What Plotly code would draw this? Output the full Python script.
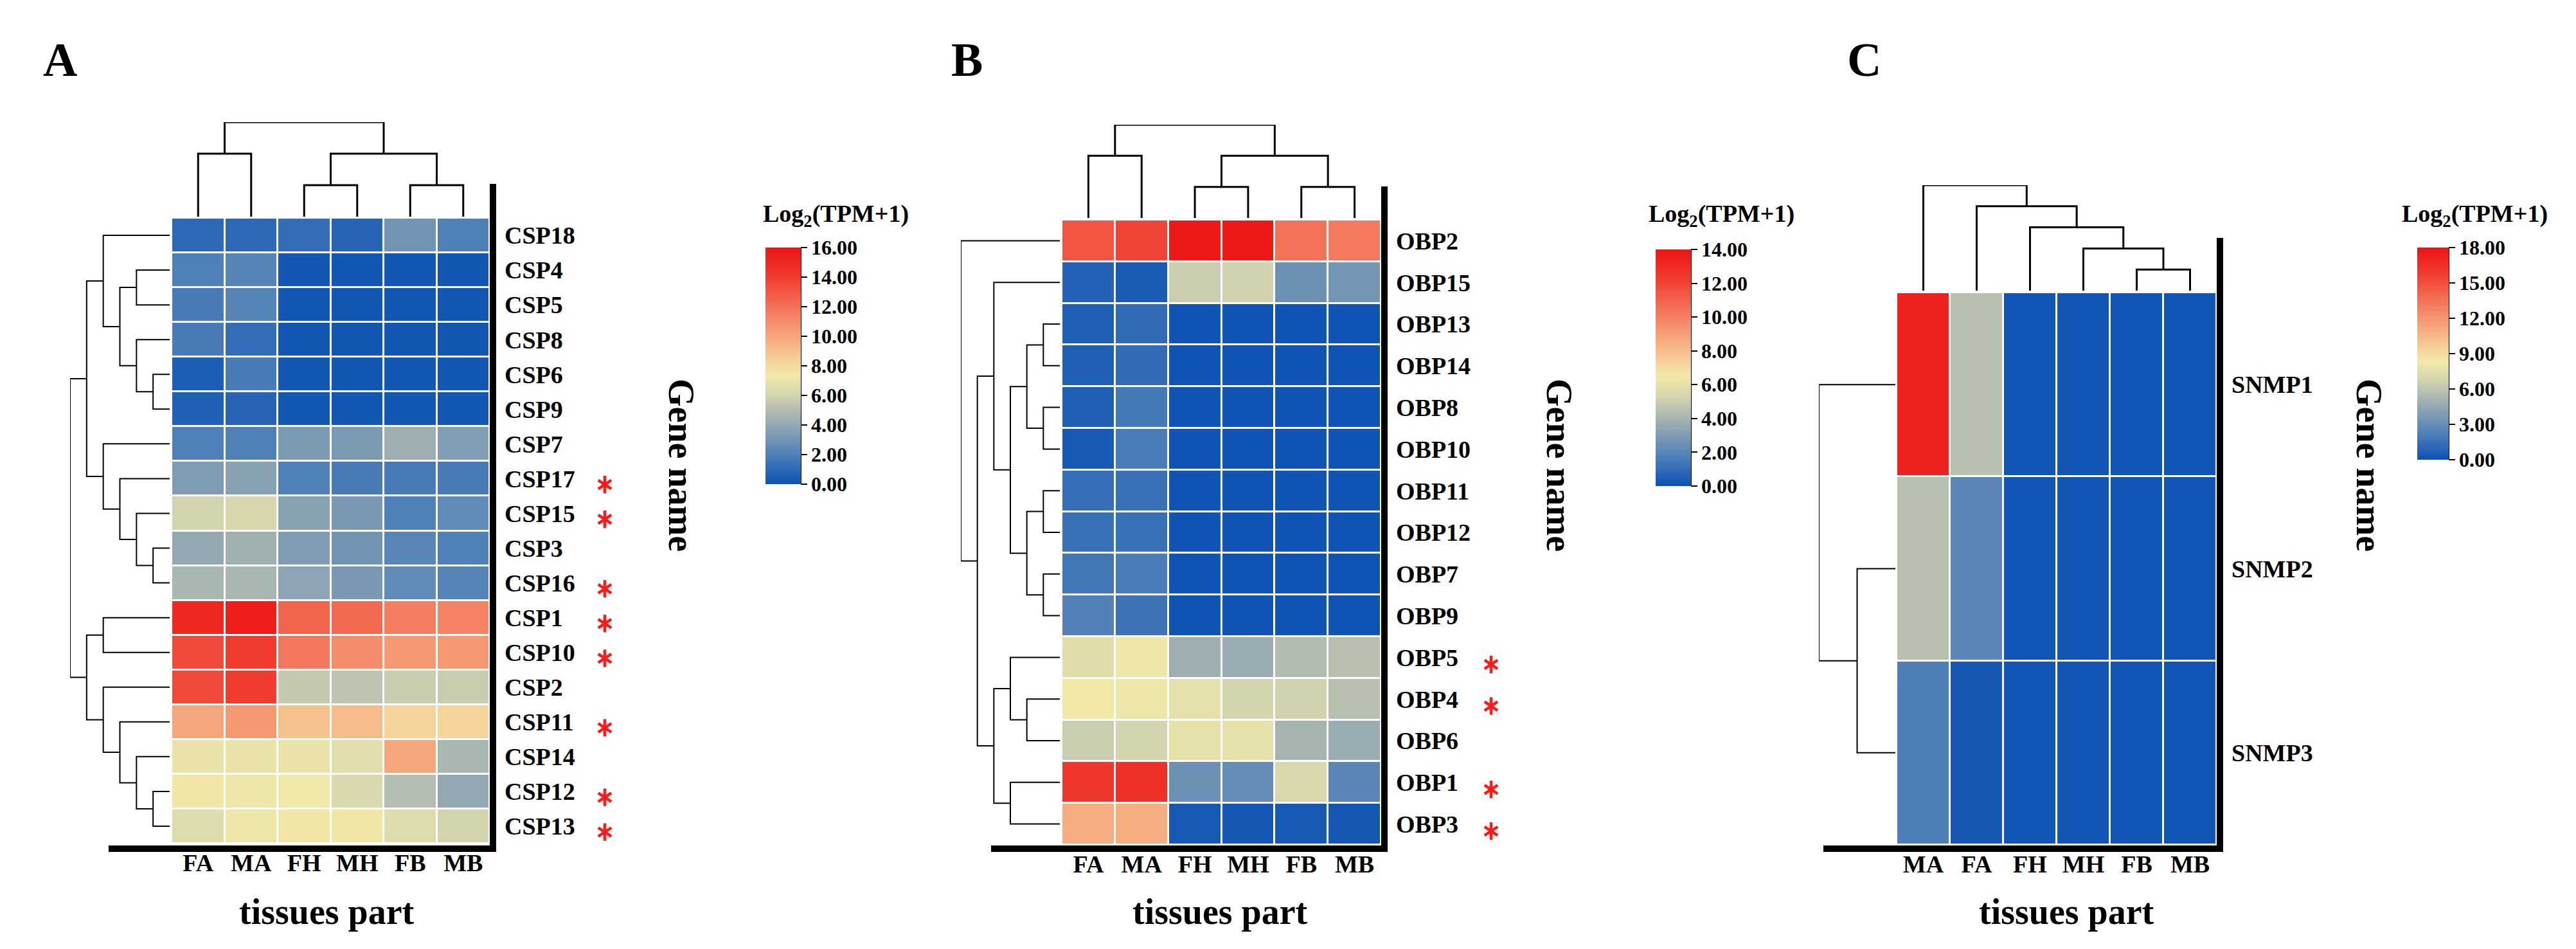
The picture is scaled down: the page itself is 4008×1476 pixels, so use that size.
import plotly.graph_objects as go

W, H = 4008, 1476
FONT = "Liberation Serif"

# ---------------- data ----------------
tissues_ab = ["FA", "MA", "FH", "MH", "FB", "MB"]
tissues_c = ["MA", "FA", "FH", "MH", "FB", "MB"]

csp_genes = ["CSP18", "CSP4", "CSP5", "CSP8", "CSP6", "CSP9", "CSP7", "CSP17", "CSP15",
             "CSP3", "CSP16", "CSP1", "CSP10", "CSP2", "CSP11", "CSP14", "CSP12", "CSP13"]
csp_values = [
    [1.0, 1.0, 1.2, 0.8, 3.0, 2.0],
    [2.0, 2.2, 0.2, 0.2, 0.2, 0.2],
    [1.8, 2.2, 0.2, 0.2, 0.2, 0.2],
    [1.8, 1.2, 0.2, 0.2, 0.2, 0.2],
    [0.5, 1.8, 0.2, 0.2, 0.2, 0.2],
    [0.6, 0.8, 0.2, 0.2, 0.2, 0.2],
    [2.0, 2.0, 3.3, 3.3, 4.3, 3.5],
    [3.4, 3.7, 2.0, 1.8, 1.8, 1.8],
    [6.0, 6.2, 3.7, 3.2, 2.0, 2.5],
    [4.0, 4.4, 3.4, 3.0, 2.3, 2.0],
    [4.7, 4.7, 3.8, 3.2, 2.5, 2.2],
    [15.0, 15.5, 12.5, 12.3, 11.5, 11.3],
    [13.5, 14.0, 11.8, 11.0, 10.5, 10.5],
    [13.5, 14.0, 5.5, 5.3, 5.7, 5.7],
    [10.0, 10.5, 9.0, 9.2, 8.3, 8.3],
    [7.0, 7.0, 7.0, 6.7, 10.0, 4.7],
    [7.5, 7.2, 7.3, 6.3, 5.0, 4.0],
    [6.5, 7.2, 7.5, 7.5, 6.5, 6.0],
]
csp_starred = ["CSP17", "CSP15", "CSP16", "CSP1", "CSP10", "CSP11", "CSP12", "CSP13"]
csp_ticks = [0, 2, 4, 6, 8, 10, 12, 14, 16]
# merges: (child, child, level); str = leaf, int = index of an earlier merge
csp_row_tree = [
    ("CSP4", "CSP5", 2), ("CSP6", "CSP9", 1), ("CSP8", 1, 2), (0, 2, 3), ("CSP18", 3, 4),
    ("CSP3", "CSP16", 1), ("CSP15", 5, 2), ("CSP17", 6, 3), ("CSP7", 7, 4), (4, 8, 5),
    ("CSP1", "CSP10", 4), ("CSP12", "CSP13", 1), ("CSP14", 11, 2), ("CSP11", 12, 3),
    ("CSP2", 13, 4), (10, 14, 5), (9, 15, 6),
]
csp_col_tree = [("FA", "MA", 2), ("FH", "MH", 1), ("FB", "MB", 1), (1, 2, 2), (0, 3, 3)]

obp_genes = ["OBP2", "OBP15", "OBP13", "OBP14", "OBP8", "OBP10", "OBP11", "OBP12",
             "OBP7", "OBP9", "OBP5", "OBP4", "OBP6", "OBP1", "OBP3"]
obp_values = [
    [11.5, 12.0, 13.8, 13.8, 10.5, 10.2],
    [0.6, 0.4, 5.0, 5.2, 2.5, 2.7],
    [0.5, 1.0, 0.1, 0.1, 0.1, 0.1],
    [0.5, 1.0, 0.1, 0.1, 0.1, 0.1],
    [0.5, 1.5, 0.1, 0.1, 0.1, 0.1],
    [0.3, 1.6, 0.1, 0.1, 0.1, 0.1],
    [1.1, 1.2, 0.1, 0.1, 0.1, 0.1],
    [1.2, 1.2, 0.1, 0.1, 0.1, 0.1],
    [1.4, 1.6, 0.1, 0.1, 0.1, 0.1],
    [1.8, 1.3, 0.1, 0.1, 0.1, 0.1],
    [5.8, 6.3, 3.8, 3.7, 4.3, 4.5],
    [6.5, 6.3, 6.0, 5.3, 5.2, 4.5],
    [5.0, 5.3, 6.0, 6.0, 4.0, 3.7],
    [12.5, 12.7, 2.5, 2.3, 5.5, 2.0],
    [8.5, 8.5, 0.3, 0.2, 0.3, 0.2],
]
obp_starred = ["OBP5", "OBP4", "OBP1", "OBP3"]
obp_ticks = [0, 2, 4, 6, 8, 10, 12, 14]
obp_row_tree = [
    ("OBP13", "OBP14", 1), ("OBP8", "OBP10", 1), (0, 1, 2), ("OBP11", "OBP12", 1),
    ("OBP7", "OBP9", 1), (3, 4, 2), (2, 5, 3), ("OBP15", 6, 4), ("OBP4", "OBP6", 2),
    ("OBP5", 8, 3), ("OBP1", "OBP3", 3), (9, 10, 4), (7, 11, 5), ("OBP2", 12, 6),
]
obp_col_tree = [("FA", "MA", 2), ("FH", "MH", 1), ("FB", "MB", 1), (1, 2, 2), (0, 3, 3)]

snmp_genes = ["SNMP1", "SNMP2", "SNMP3"]
snmp_values = [
    [17.3, 5.8, 0.2, 0.2, 0.2, 0.2],
    [5.8, 2.6, 0.2, 0.2, 0.2, 0.2],
    [2.2, 0.3, 0.2, 0.2, 0.2, 0.2],
]
snmp_starred = []
snmp_ticks = [0, 3, 6, 9, 12, 15, 18]
snmp_row_tree = [("SNMP2", "SNMP3", 1), ("SNMP1", 0, 2)]
snmp_col_tree = [("FB", "MB", 1), ("MH", 0, 2), ("FH", 1, 3), ("FA", 2, 4), ("MA", 3, 5)]

# ---------------- style / geometry (pixels) ----------------
COLORSCALE = [
    [0.0, "#0c52b5"], [0.125, "#4f80b8"], [0.25, "#93a8b2"], [0.375, "#d3d3ae"],
    [0.46, "#f1e9a8"], [0.52, "#f5d39a"], [0.625, "#f6a67b"], [0.75, "#f37257"],
    [0.875, "#f03d30"], [1.0, "#ee1414"],
]
STAR_RED = "#ff1a1a"

panels = [
    dict(letter="A", letter_xy=(85, 85), genes=csp_genes, values=csp_values, cols=tissues_ab,
         starred=csp_starred, ticks=csp_ticks, row_tree=csp_row_tree, col_tree=csp_col_tree,
         hm_x=(259, 754), hm_y=(331, 1304), cd_y=(182, 329), cd_levels=3,
         rd_x=(101, 256), rd_levels=6, vline=(759, 278, 1312), hline=(161, 764, 1312),
         star_x=(918, 948), gene_label_x=1052, tissue_x=500, cbar=(1183, 1238, 377, 745),
         cbar_title_x=1177),
    dict(letter="B", letter_xy=(1496, 85), genes=obp_genes, values=obp_values, cols=tissues_ab,
         starred=obp_starred, ticks=obp_ticks, row_tree=obp_row_tree, col_tree=obp_col_tree,
         hm_x=(1644, 2141), hm_y=(334, 1306), cd_y=(186, 331), cd_levels=3,
         rd_x=(1487, 1641), rd_levels=6, vline=(2146, 282, 1312), hline=(1534, 2151, 1312),
         star_x=(2297, 2327), gene_label_x=2418, tissue_x=1890, cbar=(2568, 2623, 380, 748),
         cbar_title_x=2555),
    dict(letter="C", letter_xy=(2892, 85), genes=snmp_genes, values=snmp_values, cols=tissues_c,
         starred=snmp_starred, ticks=snmp_ticks, row_tree=snmp_row_tree, col_tree=snmp_col_tree,
         hm_x=(2943, 3441), hm_y=(447, 1306), cd_y=(280, 444), cd_levels=5,
         rd_x=(2822, 2941), rd_levels=2, vline=(3446, 362, 1312), hline=(2829, 3451, 1312),
         star_x=None, gene_label_x=3678, tissue_x=3207, cbar=(3753, 3802, 377, 707),
         cbar_title_x=3727),
]


def px(x):
    return x / W


def py(y):
    return 1 - y / H


def dendro_paths(tree, leaves):
    pos = {name: i for i, name in enumerate(leaves)}
    nodes = []
    along, height = [], []
    for a, b, h in tree:
        pa, ha = (pos[a], 0.0) if isinstance(a, str) else nodes[a]
        pb, hb = (pos[b], 0.0) if isinstance(b, str) else nodes[b]
        along += [pa, pa, pb, pb, None]
        height += [ha, h, h, hb, None]
        nodes.append(((pa + pb) / 2, h))
    return along, height


def names(i):
    s = "" if i == 1 else str(i)
    return "x" + s, "y" + s, "xaxis" + s, "yaxis" + s


fig = go.Figure()
layout = {}
annotations = []
shapes = []
bold = dict(family=FONT, color="black", weight="bold")


def note(text, x, y, size, **kw):
    d = dict(text=text, x=x, y=y, xref="paper", yref="paper", xanchor="center",
             yanchor="middle", showarrow=False,
             font=dict(family=FONT, size=size, color="black"))
    d.update(kw)
    return d


axis_no = 1
for k, p in enumerate(panels):
    n = len(p["genes"])
    hx, hy, hxa, hya = names(axis_no)
    cx, cy, cxa, cya = names(axis_no + 1)
    rx, ry, rxa, rya = names(axis_no + 2)
    axis_no += 3
    zmax = p["ticks"][-1]
    cb = p["cbar"]

    fig.add_trace(go.Heatmap(
        z=p["values"], x=p["cols"], y=p["genes"], xaxis=hx, yaxis=hy,
        zmin=0, zmax=zmax, colorscale=COLORSCALE, xgap=3, ygap=3,
        colorbar=dict(
            x=px(cb[0]), xanchor="left", y=py((cb[2] + cb[3]) / 2), yanchor="middle",
            len=cb[3] - cb[2], lenmode="pixels", thickness=cb[1] - cb[0],
            thicknessmode="pixels", xpad=0, ypad=0, outlinewidth=0,
            tickvals=p["ticks"], tickformat=".2f", ticks="outside", ticklen=10,
            tickwidth=2, tickcolor="black", tickfont=dict(size=32, **bold),
        ),
    ))
    layout[hxa] = dict(domain=[px(p["hm_x"][0]), px(p["hm_x"][1])], anchor=hy,
                       range=[-0.5, 5.5], showgrid=False, zeroline=False, showline=False,
                       ticks="", side="bottom", tickfont=dict(size=38, **bold),
                       ticklabelstandoff=4, fixedrange=True)
    layout[hya] = dict(domain=[py(p["hm_y"][1]), py(p["hm_y"][0])], anchor=hx,
                       range=[n - 0.5, -0.5], showgrid=False, zeroline=False, showline=False,
                       ticks="", side="right", tickfont=dict(size=38, **bold),
                       ticklabelstandoff=22, fixedrange=True)

    # column dendrogram
    a, h = dendro_paths(p["col_tree"], p["cols"])
    fig.add_trace(go.Scatter(x=a, y=h, xaxis=cx, yaxis=cy, mode="lines",
                             line=dict(color="black", width=3), hoverinfo="skip"))
    layout[cxa] = dict(domain=layout[hxa]["domain"], anchor=cy, range=[-0.5, 5.5], visible=False)
    layout[cya] = dict(domain=[py(p["cd_y"][1]), py(p["cd_y"][0])], anchor=cx,
                       range=[0, p["cd_levels"]], visible=False)

    # row dendrogram
    a, h = dendro_paths(p["row_tree"], p["genes"])
    fig.add_trace(go.Scatter(x=h, y=a, xaxis=rx, yaxis=ry, mode="lines",
                             line=dict(color="black", width=2), hoverinfo="skip"))
    layout[rxa] = dict(domain=[px(p["rd_x"][0]), px(p["rd_x"][1])], anchor=ry,
                       range=[p["rd_levels"], 0], visible=False)
    layout[rya] = dict(domain=layout[hya]["domain"], anchor=rx, range=[n - 0.5, -0.5],
                       visible=False)

    # significance asterisks (two 3-armed markers overlaid -> 6-armed star)
    if p["starred"]:
        sx, sy, sxa, sya = names(axis_no)
        axis_no += 1
        rows = [p["genes"].index(g) + 0.17 for g in p["starred"]]
        for sym in ("y-up-open", "y-down-open"):
            fig.add_trace(go.Scatter(
                x=[0.5] * len(rows), y=rows, xaxis=sx, yaxis=sy, mode="markers",
                cliponaxis=False, hoverinfo="skip",
                marker=dict(symbol=sym, size=17, color=STAR_RED,
                            line=dict(color=STAR_RED, width=4.5)),
            ))
        layout[sxa] = dict(domain=[px(p["star_x"][0]), px(p["star_x"][1])], anchor=sy,
                           range=[0, 1], visible=False)
        layout[sya] = dict(domain=layout[hya]["domain"], anchor=sx, range=[n - 0.5, -0.5],
                           visible=False)

    # frame lines
    vx, vy0, vy1 = p["vline"]
    shapes.append(dict(type="line", xref="paper", yref="paper", x0=px(vx), x1=px(vx),
                       y0=py(vy0), y1=py(vy1), line=dict(color="black", width=10)))
    hx0, hx1, hyy = p["hline"]
    shapes.append(dict(type="line", xref="paper", yref="paper", x0=px(hx0), x1=px(hx1),
                       y0=py(hyy), y1=py(hyy), line=dict(color="black", width=10)))
    # colorbar right edge
    shapes.append(dict(type="line", xref="paper", yref="paper", x0=px(cb[1]), x1=px(cb[1]),
                       y0=py(cb[2]), y1=py(cb[3]), line=dict(color="black", width=2)))

    # texts
    lx, ly = p["letter_xy"]
    annotations.append(note("<b>%s</b>" % p["letter"], px(lx), py(ly), 74))
    annotations.append(note("<b>Log<sub>2</sub>(TPM+1)</b>", px(p["cbar_title_x"]), py(327), 38,
                            xanchor="left"))
    annotations.append(note("<b>Gene name</b>", px(p["gene_label_x"]), py(715), 56, textangle=90))
    annotations.append(note("<b>tissues part</b>", px(p["tissue_x"]), py(1410), 56))

fig.update_layout(
    width=W, height=H, margin=dict(l=0, r=0, t=0, b=0),
    paper_bgcolor="white", plot_bgcolor="white", showlegend=False,
    annotations=annotations, shapes=shapes, **layout,
)
fig.write_html("out.html")
